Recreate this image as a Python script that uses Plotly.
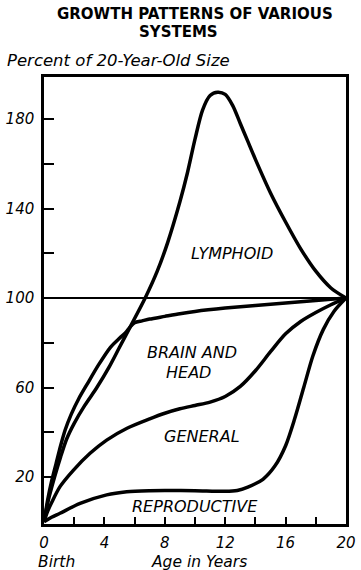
import plotly.graph_objects as go

# ---- data (age in years, percent of 20-year-old size) ----
lymph_age = [0, 0.3, 0.7, 1.1, 1.5, 2.0, 2.7, 3.5, 4.3, 5.0, 5.7, 6.7, 7.5, 8.2, 9, 9.5, 10, 10.5, 11, 11.5, 12, 12.5, 13, 13.5, 14, 15, 16, 17, 18, 19, 20]
lymph_pct = [0, 10, 20, 29, 37, 44, 52, 60, 69, 78, 87, 100, 112, 125, 143, 156, 171, 184, 190.5, 192, 191, 186, 178, 170, 162, 147, 134, 122, 112, 104.5, 100]

brain_age = [0, 0.25, 0.5, 0.8, 1.1, 1.4, 1.8, 2.3, 2.9, 3.6, 4.4, 5.0, 5.4, 5.7, 6.0, 6.5, 7, 8, 9, 10, 12, 14, 16, 18, 20]
brain_pct = [0, 10, 18, 26, 34, 41, 48, 55, 62, 70, 78, 82, 84.5, 87, 89, 89.8, 90.6, 91.8, 93, 94, 95.5, 96.7, 97.8, 98.9, 100]

general_age = [0, 0.2, 0.5, 1.06, 1.94, 3.05, 4.15, 5.5, 7, 8, 9, 10, 11, 12, 13, 14, 15, 16, 17, 18, 19, 20]
general_pct = [0, 4, 8.5, 15.7, 23, 30.6, 36.5, 41.8, 46, 48.5, 50.5, 52, 53.5, 56, 60.5, 67.5, 76, 84, 89.5, 93.5, 97, 100]

repro_age = [0, 0.5, 1.06, 2.39, 4.15, 5.48, 7, 8, 10, 12, 12.8, 13.5, 14.5, 15.3, 16, 16.6, 17.2, 17.8, 18.5, 19.2, 20]
repro_pct = [0, 2, 3.8, 8.2, 12, 13.4, 13.9, 14, 13.9, 13.6, 14, 15.5, 19, 25, 34, 46, 60, 74, 86, 94, 100]

ref_age = [0, 20]
ref_pct = [100, 100]

y_tickvals = [20, 40, 60, 80, 100, 120, 140, 160, 180]
y_ticktext = ["20", "", "60", "", "100", "", "140", "", "180"]
x_tickvals = [0, 2, 4, 6, 8, 10, 12, 14, 16, 18, 20]
x_ticktext = ["0", "", "4", "", "8", "", "12", "", "16", "", "20"]

labels = ["LYMPHOID", "BRAIN AND", "HEAD", "GENERAL", "REPRODUCTIVE"]
label_x = [12.45, 9.8, 9.6, 10.46, 10.0]
label_y = [120.1, 75.8, 66.5, 37.9, 7.0]

FONT = "DejaVu Sans"
fig = go.Figure()

fig.add_trace(go.Scatter(x=ref_age, y=ref_pct, mode="lines",
                         line=dict(color="black", width=2), hoverinfo="skip"))
for ax, ay, sm in [(repro_age, repro_pct, 0.8), (general_age, general_pct, 0.8),
                   (brain_age, brain_pct, 0.7), (lymph_age, lymph_pct, 0.8)]:
    fig.add_trace(go.Scatter(x=ax, y=ay, mode="lines",
                             line=dict(color="black", width=3.5, shape="spline", smoothing=sm),
                             hoverinfo="skip"))

for t, lx, ly in zip(labels, label_x, label_y):
    fig.add_annotation(x=lx, y=ly, text=t, showarrow=False, xanchor="center", yanchor="middle",
                       font=dict(family=FONT, size=16, color="black", style="italic"))

def paper_text(x, y, text, size, xanchor="center", **fontkw):
    fig.add_annotation(xref="paper", yref="paper", x=x, y=y, text=text, showarrow=False,
                       xanchor=xanchor, yanchor="middle",
                       font=dict(family=FONT, size=size, color="black", **fontkw))

paper_text(0.5, 1.141, "GROWTH PATTERNS OF VARIOUS", 15, weight="bold")
paper_text(0.447, 1.1007, "SYSTEMS", 15, weight="bold")
paper_text(-0.129, 1.038, "Percent of 20-Year-Old Size", 16.5, xanchor="left", style="italic")
paper_text(0.043, -0.085, "Birth", 15.5, style="italic")
paper_text(0.513, -0.085, "Age in Years", 15.5, style="italic")

fig.update_layout(
    width=361, height=570,
    margin=dict(l=44, r=15, t=77, b=46),
    paper_bgcolor="white", plot_bgcolor="white",
    showlegend=False,
    xaxis=dict(range=[0, 20], tickvals=x_tickvals, ticktext=x_ticktext,
               ticks="inside", ticklen=7, tickwidth=2, tickcolor="black",
               showline=True, linewidth=2.5, linecolor="black", mirror=True,
               showgrid=False, zeroline=False, ticklabelstandoff=3, automargin=False,
               tickfont=dict(family=FONT, size=15, color="black", style="italic")),
    yaxis=dict(range=[-1, 198.8], tickvals=y_tickvals, ticktext=y_ticktext,
               ticks="inside", ticklen=10, tickwidth=2, tickcolor="black",
               showline=True, linewidth=2.5, linecolor="black", mirror=True,
               showgrid=False, zeroline=False, ticklabelstandoff=4, automargin=False,
               tickfont=dict(family=FONT, size=15, color="black", style="italic")),
)

fig.write_html("out.html", config={"displayModeBar": False},
               post_script="document.body.style.margin='0';")
